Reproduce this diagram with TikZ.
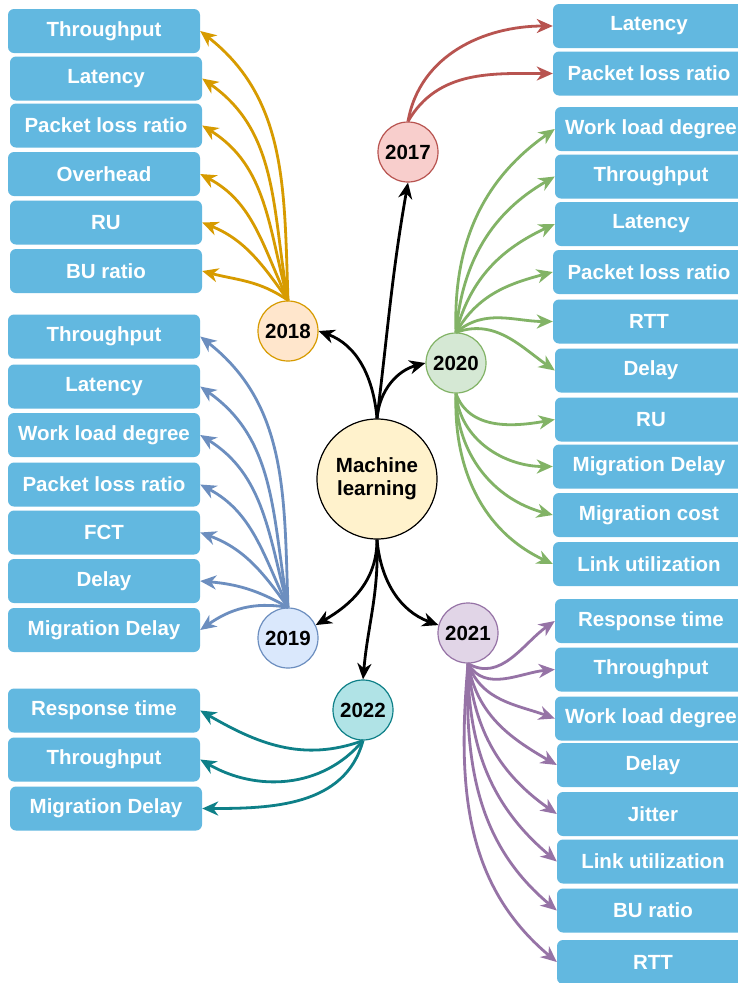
\documentclass[tikz,border=0pt]{standalone}
\usepackage{fontspec}
\setmainfont{Liberation Sans}
\usetikzlibrary{arrows.meta}
\definecolor{boxblue}{HTML}{62B8E0}
\definecolor{s17}{HTML}{B85450}\definecolor{f17}{HTML}{F8CECC}
\definecolor{s18}{HTML}{D79B00}\definecolor{f18}{HTML}{FFE6CC}
\definecolor{s19}{HTML}{6C8EBF}\definecolor{f19}{HTML}{DAE8FC}
\definecolor{s20}{HTML}{82B366}\definecolor{f20}{HTML}{D5E8D4}
\definecolor{s21}{HTML}{9673A6}\definecolor{f21}{HTML}{E1D5E7}
\definecolor{s22}{HTML}{0E8088}\definecolor{f22}{HTML}{B0E3E6}
\definecolor{fml}{HTML}{FFF2CC}
\tikzset{
  box/.style={rectangle, rounded corners=6pt, fill=boxblue, draw=none,
    minimum width=192pt, minimum height=44pt, inner sep=0pt, text=white,
    font=\fontsize{20.5}{24}\selectfont\bfseries},
  year/.style={circle, minimum size=60pt, inner sep=0pt, line width=1.2pt,
    font=\fontsize{20.5}{24}\selectfont\bfseries},
  conn/.style={line width=2.8pt, -{Stealth[length=16pt,width=14pt,inset=5pt]}},
  e17/.style={conn, draw=s17}, e18/.style={conn, draw=s18},
  e19/.style={conn, draw=s19}, e20/.style={conn, draw=s20},
  e21/.style={conn, draw=s21}, e22/.style={conn, draw=s22},
  eml/.style={conn, draw=black},
}
\begin{document}
\begin{tikzpicture}[x=1pt,y=1pt]
\useasboundingbox (0,0) rectangle (738,-983);
\fill[white] (0,0) rectangle (738,-983);
% circles
\node[year, draw=black, fill=fml, minimum size=120pt, align=center] (ml) at (377,-479) {Machine\\[-1pt]learning};
\node[year, draw=s17, fill=f17] (c17) at (408,-152) {2017};
\node[year, draw=s18, fill=f18] (c18) at (288,-331) {2018};
\node[year, draw=s19, fill=f19] (c19) at (288,-638) {2019};
\node[year, draw=s20, fill=f20] (c20) at (456,-363) {2020};
\node[year, draw=s21, fill=f21] (c21) at (468,-633) {2021};
\node[year, draw=s22, fill=f22] (c22) at (363,-710) {2022};
% 2018 boxes
\node[box] (a1) at (104,-31) {Throughput};
\node[box] (a2) at (106,-78.5) {Latency};
\node[box] (a3) at (106,-125.5) {Packet loss ratio};
\node[box] (a4) at (104,-174) {Overhead};
\node[box] (a5) at (106,-222.5) {RU};
\node[box] (a6) at (106,-271) {BU ratio};
% 2019 boxes
\node[box] (b1) at (104,-336.5) {Throughput};
\node[box] (b2) at (104,-386.5) {Latency};
\node[box] (b3) at (104,-435) {Work load degree};
\node[box] (b4) at (104,-484.5) {Packet loss ratio};
\node[box] (b5) at (104,-532.5) {FCT};
\node[box] (b6) at (104,-581) {Delay};
\node[box] (b7) at (104,-630) {Migration Delay};
% 2022 boxes
\node[box] (g1) at (104,-710.5) {Response time};
\node[box] (g2) at (104,-759.5) {Throughput};
\node[box] (g3) at (106,-808.5) {Migration Delay};
% 2017 boxes
\node[box] (r1) at (649,-26) {Latency};
\node[box] (r2) at (649,-73.5) {Packet loss ratio};
% 2020 boxes
\node[box] (d1) at (651,-129) {Work load degree};
\node[box] (d2) at (651,-176.5) {Throughput};
\node[box] (d3) at (651,-224) {Latency};
\node[box] (d4) at (649,-272) {Packet loss ratio};
\node[box] (d5) at (649,-321.5) {RTT};
\node[box] (d6) at (651,-370.5) {Delay};
\node[box] (d7) at (651,-419.5) {RU};
\node[box] (d8) at (649,-466.5) {Migration Delay};
\node[box] (d9) at (649,-515) {Migration cost};
\node[box] (d10) at (649,-564) {Link utilization};
% 2021 boxes
\node[box] (h1) at (651,-621) {Response time};
\node[box] (h2) at (651,-669.5) {Throughput};
\node[box] (h3) at (651,-718.5) {Work load degree};
\node[box] (h4) at (653,-765) {Delay};
\node[box] (h5) at (653,-814) {Jitter};
\node[box] (h6) at (653,-861.5) {Link utilization};
\node[box] (h7) at (653,-910.5) {BU ratio};
\node[box] (h8) at (653,-962) {RTT};
% ML edges
\draw[eml] (ml.north) to[out=83,in=-100] (c17.south);
\draw[eml] (ml.north) to[out=95,in=-20] (c18.east);
\draw[eml] (ml.north) to[out=85,in=-165] (c20.west);
\draw[eml] (ml.south) to[out=-90,in=30] (c19.25);
\draw[eml] (ml.south) to[out=-85,in=160] (c21.165);
\draw[eml] (ml.south) to[out=-88,in=85] (c22.north);
% 2017 edges
\draw[e17] (c17.north) to[out=80,in=180] (r1.west);
\draw[e17] (c17.north) to[out=60,in=180] (r2.west);
% 2018 edges
\draw[e18] (c18.north) to[out=92,in=-38] (a1.east);
\draw[e18] (c18.north) to[out=100,in=-35] (a2.east);
\draw[e18] (c18.north) to[out=105,in=-32] (a3.east);
\draw[e18] (c18.north) to[out=115,in=-28] (a4.east);
\draw[e18] (c18.north) to[out=125,in=-22] (a5.east);
\draw[e18] (c18.north) to[out=145,in=-15] (a6.east);
% 2019 edges
\draw[e19] (c19.north) to[out=92,in=-38] (b1.east);
\draw[e19] (c19.north) to[out=100,in=-35] (b2.east);
\draw[e19] (c19.north) to[out=105,in=-32] (b3.east);
\draw[e19] (c19.north) to[out=115,in=-28] (b4.east);
\draw[e19] (c19.north) to[out=125,in=-20] (b5.east);
\draw[e19] (c19.north) to[out=150,in=-5] (b6.east);
\draw[e19] (c19.north) to[out=170,in=35] (b7.east);
% 2022 edges
\draw[e22] (c22.south) to[out=-160,in=-30] (g1.east);
\draw[e22] (c22.south) to[out=-130,in=-30] (g2.east);
\draw[e22] (c22.south) to[out=-105,in=0] (g3.east);
% 2020 edges
\draw[e20] (c20.north) to[out=92,in=-145] (d1.west);
\draw[e20] (c20.north) to[out=85,in=-150] (d2.west);
\draw[e20] (c20.north) to[out=75,in=-155] (d3.west);
\draw[e20] (c20.north) to[out=60,in=-165] (d4.west);
\draw[e20] (c20.north) to[out=40,in=180] (d5.west);
\draw[e20] (c20.north) to[out=20,in=145] (d6.west);
\draw[e20] (c20.south) to[out=-70,in=-170] (d7.west);
\draw[e20] (c20.south) to[out=-85,in=180] (d8.west);
\draw[e20] (c20.south) to[out=-90,in=165] (d9.west);
\draw[e20] (c20.south) to[out=-92,in=155] (d10.west);
% 2021 edges
\draw[e21] (c21.south) to[out=-30,in=-145] (h1.west);
\draw[e21] (c21.south) to[out=-60,in=-175] (h2.west);
\draw[e21] (c21.south) to[out=-70,in=160] (h3.west);
\draw[e21] (c21.south) to[out=-80,in=150] (h4.west);
\draw[e21] (c21.south) to[out=-85,in=145] (h5.west);
\draw[e21] (c21.south) to[out=-90,in=140] (h6.west);
\draw[e21] (c21.south) to[out=-92,in=140] (h7.west);
\draw[e21] (c21.south) to[out=-95,in=140] (h8.west);
\end{tikzpicture}
\end{document}
